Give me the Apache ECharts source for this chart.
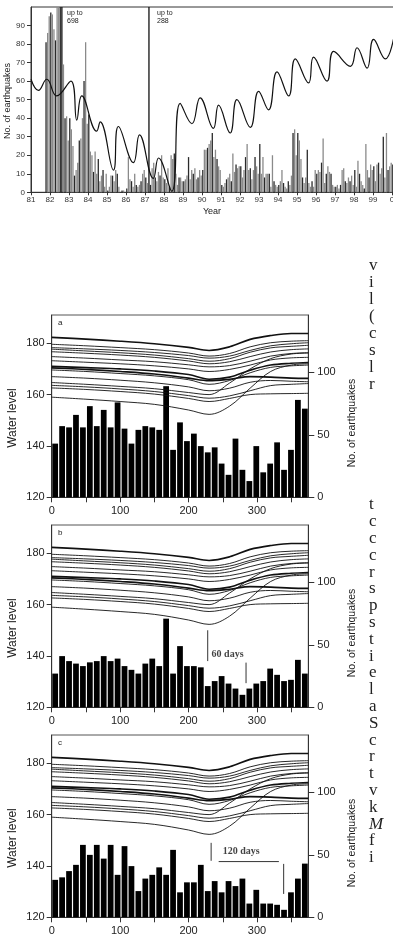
<!DOCTYPE html>
<html><head><meta charset="utf-8">
<script src="https://cdn.jsdelivr.net/npm/echarts@6/dist/echarts.min.js"></script>
<style>html,body{margin:0;padding:0;background:#fff}#c{width:393px;height:943px}</style>
</head><body><div id="c"></div>
<script>
// ---------------- DATA ----------------
// Top chart: monthly number of earthquakes, starting Oct 1981
const monthlyStart = 1981.75;
const monthlyCounts = [
  81, 86, 95,
  97, 96, 88, 82, 120, 140, 160, 698, 69, 40, 41, 28,
  40, 34, 25, 9, 12, 16, 28, 29, 40, 60, 81, 37,
  42, 22, 20, 11, 22, 10, 18, 6, 9, 12, 3, 10,
  1, 3, 9, 9, 6, 12, 10, 3, 0, 1, 1, 0,
  2, 19, 7, 6, 3, 10, 4, 3, 4, 6, 10, 12,
  8, 5, 288, 4, 13, 16, 8, 6, 11, 9, 20, 8,
  7, 5, 13, 3, 20, 18, 21, 10, 4, 8, 8, 6,
  6, 7, 9, 19, 7, 12, 10, 13, 7, 8, 12, 9,
  12, 23, 23, 24, 26, 28, 32, 19, 23, 18, 14, 12,
  4, 3, 5, 7, 8, 10, 6, 21, 11, 15, 13, 14,
  14, 8, 12, 19, 26, 12, 13, 7, 12, 19, 14, 10,
  26, 10, 19, 8, 10, 10, 10, 3, 20, 6, 4, 3,
  4, 6, 12, 5, 3, 2, 6, 4, 9, 32, 34, 20,
  32, 28, 18, 8, 5, 8, 23, 5, 3, 6, 3, 12,
  10, 12, 11, 16, 29, 5, 10, 14, 11, 10, 4, 3,
  3, 4, 2, 4, 12, 13, 6, 5, 8, 6, 9, 4,
  12, 3, 17, 10, 6, 4, 2, 26, 12, 8, 15, 12,
  14, 6, 15, 16, 10, 13, 30, 8, 32, 12, 14, 16,
  15, 10, 8, 14, 9, 12, 6, 10, 8, 12, 10, 9
];
// Top chart: curve (turning points)
const levelYears  = [1981.0, 1981.39, 1981.83, 1982.35, 1983.1, 1983.41, 1983.67, 1984.46, 1984.64, 1985.34, 1985.6, 1986.39, 1986.71, 1987.44, 1987.71, 1988.41, 1988.85, 1989.47, 1989.9, 1990.6, 1990.87, 1991.48, 1991.84, 1992.54, 1992.98, 1993.5, 1993.95, 1994.56, 1994.91, 1995.61, 1995.87, 1996.58, 1996.93, 1997.81, 1998.16, 1998.69, 1999.03, 1999.65, 2000.12];
const levelValues = [61, 55, 61, 52, 60, 39, 52, 33, 38, 12, 35.5, 16, 31, 7.5, 18.5, 0.5, 48, 37, 51, 34.5, 47, 32, 50, 35, 54.5, 44.5, 65, 52, 72, 59, 73, 60, 76, 68, 78, 67, 82.5, 72, 85];

// Panels a, b, c: 10-day bins of earthquakes
const binLabels = Array.from({length: 37}, (_, i) => String(i + 1));
const binCountsA = [43, 57, 56, 66, 56, 73, 57, 70, 56, 76, 55, 43, 54, 57, 56, 54, 89, 38, 60, 45, 51, 41, 36, 40, 27, 18, 47, 22, 13, 41, 20, 27, 44, 22, 38, 78, 71];
const binCountsB = [27, 41, 37, 35, 33, 36, 37, 41, 37, 39, 33, 30, 27, 35, 39, 33, 71, 27, 49, 33, 33, 32, 17, 21, 25, 19, 15, 10, 15, 19, 21, 31, 26, 21, 22, 38, 27];
const binCountsC = [30, 32, 37, 42, 58, 50, 58, 47, 58, 34, 57, 41, 21, 31, 34, 40, 34, 54, 20, 28, 28, 42, 21, 29, 20, 29, 25, 31, 11, 22, 11, 11, 10, 6, 20, 31, 43];

// Panels: yearly water-level curves (day of year -> level)
const curveDays = [0, 50, 100, 150, 200, 230, 260, 290, 320, 350, 375];
const waterLevelCurves = [
  [182.3, 181.6, 180.8, 179.8, 178.4, 177.2, 178.6, 181.5, 183.0, 183.8, 183.8],
  [179.6, 179.0, 178.3, 177.5, 176.2, 175.0, 176.0, 178.6, 180.2, 180.8, 181.0],
  [178.3, 177.8, 177.2, 176.4, 175.2, 174.2, 175.0, 177.2, 179.0, 179.8, 180.2],
  [177.7, 177.0, 176.3, 175.4, 174.0, 173.0, 174.0, 176.5, 178.2, 178.8, 179.2],
  [176.7, 176.1, 175.4, 174.5, 173.1, 172.0, 172.8, 174.8, 176.6, 177.5, 177.8],
  [174.8, 174.2, 173.5, 172.8, 171.6, 170.8, 171.3, 173.0, 175.0, 176.0, 176.3],
  [173.2, 172.6, 172.0, 171.2, 170.0, 169.0, 169.8, 171.5, 173.5, 174.3, 174.5],
  [171.0, 170.5, 170.0, 169.2, 167.8, 166.0, 166.8, 169.5, 171.5, 172.2, 172.5],
  [170.4, 169.8, 169.0, 168.0, 166.4, 165.4, 166.0, 167.0, 166.8, 166.4, 166.3],
  [169.6, 169.0, 168.2, 167.3, 165.8, 164.0, 165.5, 168.5, 170.6, 171.2, 171.5],
  [167.0, 166.4, 165.6, 164.6, 163.0, 161.5, 162.5, 164.8, 165.5, 165.2, 165.0],
  [164.7, 164.0, 163.2, 162.3, 160.8, 160.0, 164.5, 170.0, 174.0, 175.8, 176.2],
  [163.6, 163.0, 162.2, 161.2, 159.6, 158.6, 159.5, 161.5, 163.5, 164.0, 164.3],
  [162.6, 162.0, 161.2, 160.2, 158.5, 157.3, 158.5, 160.0, 160.3, 160.4, 160.5],
  [159.0, 158.2, 157.3, 156.2, 154.0, 152.3, 155.5, 162.5, 169.0, 171.5, 172.0]
];
const heavyCurves = [0, 7, 8];

// Annotations (day, water level)
const annotB = { marks: [[[228, 150], [228, 138]], [[284, 137.4], [284, 129.4]]], text: '60 days', textAt: [257, 140.4] };
const annotC = { marks: [[[233, 149], [233, 142]], [[244, 141.7], [332, 141.7]], [[339, 140.8], [339, 129.1]]], text: '120 days', textAt: [277, 145.6] };

// Axis tick values
const topYTicks = [0, 10, 20, 30, 40, 50, 60, 70, 80, 90];
const dayTicks = [0, 50, 100, 150, 200, 250, 300, 350];
const dayLabels = [0, 100, 200, 300];
const levelTicks = [120, 140, 160, 180];
const countTicks = [0, 50, 100];

// Margin text fragments (cut-off body text on the right)
const textBlock1 = ['v', 'i', 'l', '(', 'c', 's', 'l', 'r'];
const textBlock2 = ['t', 'c', 'c', 'c', 'r', 's', 'p', 's', 't', 'i', 'e', 'l', 'a', 'S', 'c', 'r', 't', 'v', 'k', 'M', 'f', 'i'];

// ---------------- CHART ----------------
const SANS = '"Liberation Sans", Arial, Helvetica, sans-serif';
const SERIF = '"Liberation Serif", "Times New Roman", serif';
const chart = echarts.init(document.getElementById('c'));

const grids = [{ left: 31, top: 7, width: 380, height: 185.3, show: true, borderColor: '#333', borderWidth: 1, containLabel: false, outerBoundsMode: 'none' }];
const panelTops = [315, 525, 735];
panelTops.forEach(t => grids.push({ left: 51.7, top: t, width: 256.6, height: 182.3, show: true, borderColor: '#555', borderWidth: 1, containLabel: false, outerBoundsMode: 'none' }));

const xAxes = [{
  type: 'value', gridIndex: 0, min: 1981, max: 2001, interval: 1,
  axisLine: { lineStyle: { color: '#333', width: 1 } },
  axisTick: { length: 3, lineStyle: { color: '#333' } },
  axisLabel: { fontSize: 8, fontFamily: SANS, color: '#333', margin: 3, formatter: v => String(v % 100) },
  splitLine: { show: false }
}];
const yAxes = [{
  type: 'value', gridIndex: 0, min: 0, max: 100, interval: 10,
  axisLine: { show: true, lineStyle: { color: '#333' } },
  axisTick: { show: true, length: 4, customValues: topYTicks, lineStyle: { color: '#333' } },
  axisLabel: { fontSize: 8, fontFamily: SANS, color: '#333', margin: 6, customValues: topYTicks, formatter: v => v === 100 ? '' : String(v) },
  splitLine: { show: false }
}];

const series = [];
series.push({
  type: 'bar', xAxisIndex: 0, yAxisIndex: 0, barWidth: 1.3, clip: true,
  data: monthlyCounts.map((v, i) => [monthlyStart + (i + 0.5) / 12, v]),
  itemStyle: { color: p => (p.value[1] > 200 ? '#111' : (p.dataIndex % 3 === 0 ? '#2a2a2a' : '#8a8a8a')) },
  animation: false, silent: true
});
series.push({
  type: 'line', xAxisIndex: 0, yAxisIndex: 0, smooth: 0.45, symbol: 'none',
  data: levelYears.map((y, i) => [y, levelValues[i]]),
  lineStyle: { color: '#111', width: 1.2 }, animation: false, silent: true
});

const binSets = [binCountsA, binCountsB, binCountsC];
const annots = [null, annotB, annotC];
binSets.forEach((bins, p) => {
  const g = p + 1;
  const xv = xAxes.length;
  xAxes.push({
    type: 'value', gridIndex: g, min: 0, max: 375, interval: 50,
    axisLine: { lineStyle: { color: '#333' } },
    axisTick: { length: 5, customValues: dayTicks, lineStyle: { color: '#333' } },
    axisLabel: { fontSize: 11, fontFamily: SANS, color: '#222', margin: 8, customValues: dayLabels, formatter: v => (v % 100 === 0 && v <= 300 ? String(v) : '') },
    splitLine: { show: false }
  });
  const xc = xAxes.length;
  xAxes.push({ type: 'category', gridIndex: g, data: binLabels, show: false, boundaryGap: true });
  const yl = yAxes.length;
  yAxes.push({
    type: 'value', gridIndex: g, position: 'left', min: 120, max: 191, interval: 20,
    axisLine: { show: true, lineStyle: { color: '#333' } },
    axisTick: { show: true, length: 5, customValues: levelTicks, lineStyle: { color: '#333' } },
    axisLabel: { fontSize: 11, fontFamily: SANS, color: '#222', margin: 7, customValues: levelTicks },
    splitLine: { show: false }
  });
  const yr = yAxes.length;
  yAxes.push({
    type: 'value', gridIndex: g, position: 'right', min: 0, max: 146, interval: 50,
    axisLine: { show: true, lineStyle: { color: '#333' } },
    axisTick: { show: true, length: 6, customValues: countTicks, lineStyle: { color: '#333' } },
    axisLabel: { fontSize: 11, fontFamily: SANS, color: '#222', margin: 9, customValues: countTicks },
    splitLine: { show: false }
  });
  series.push({
    type: 'bar', xAxisIndex: xc, yAxisIndex: yr, data: bins, barCategoryGap: '17%',
    itemStyle: { color: '#000' }, animation: false, silent: true
  });
  waterLevelCurves.forEach((c, k) => {
    series.push({
      type: 'line', xAxisIndex: xv, yAxisIndex: yl, smooth: 0.35, symbol: 'none',
      data: curveDays.map((d, i) => [d, c[i]]),
      lineStyle: { color: '#111', width: heavyCurves.includes(k) ? 1.6 : 0.9 },
      animation: false, silent: true
    });
  });
  const a = annots[p];
  if (a) {
    a.marks.forEach(seg => series.push({
      type: 'line', xAxisIndex: xv, yAxisIndex: yl, symbol: 'none', data: seg,
      lineStyle: { color: '#333', width: 1 }, animation: false, silent: true
    }));
    series.push({
      type: 'scatter', xAxisIndex: xv, yAxisIndex: yl, symbolSize: 0, data: [a.textAt],
      label: { show: true, position: 'inside', formatter: a.text, fontFamily: SERIF, fontWeight: 'bold', fontSize: 10, color: '#111' },
      animation: false, silent: true
    });
  }
});

const graphic = [];
function rotText(text, x, y, size) {
  graphic.push({ type: 'text', x: x, y: y, rotation: Math.PI / 2, silent: true,
    style: { text: text, align: 'center', verticalAlign: 'middle', fontSize: size, fontFamily: SANS, fill: '#222' } });
}
function plainText(text, x, y, size, extra) {
  graphic.push({ type: 'text', x: x, y: y, silent: true,
    style: Object.assign({ text: text, align: 'left', verticalAlign: 'middle', fontSize: size, fontFamily: SANS, fill: '#222' }, extra || {}) });
}
rotText('No. of earthquakes', 8, 101, 9);
graphic.push({ type: 'text', x: 212, y: 212, silent: true, style: { text: 'Year', align: 'center', verticalAlign: 'middle', fontSize: 9, fontFamily: SANS, fill: '#222' } });
plainText('up to\n698', 67, 17, 7, { lineHeight: 8 });
plainText('up to\n288', 157, 17, 7, { lineHeight: 8 });
const panelNames = ['a', 'b', 'c'];
panelTops.forEach((t, p) => {
  rotText('Water level', 13, t + 103, 12);
  rotText('No. of earthquakes', 352, t + 108, 10.5);
  plainText(panelNames[p], 58, t + 8, 8);
});
textBlock1.forEach((ch, i) => plainText(ch, 369, 266 + i * 17, 17, { fontFamily: SERIF }));
textBlock2.forEach((ch, i) => plainText(ch, 369, 505 + i * 16.8, 17, { fontFamily: SERIF, fontStyle: ch === 'M' ? 'italic' : 'normal' }));

chart.setOption({
  animation: false,
  backgroundColor: '#fff',
  grid: grids,
  xAxis: xAxes,
  yAxis: yAxes,
  series: series,
  graphic: graphic
});
</script>
</body></html>
